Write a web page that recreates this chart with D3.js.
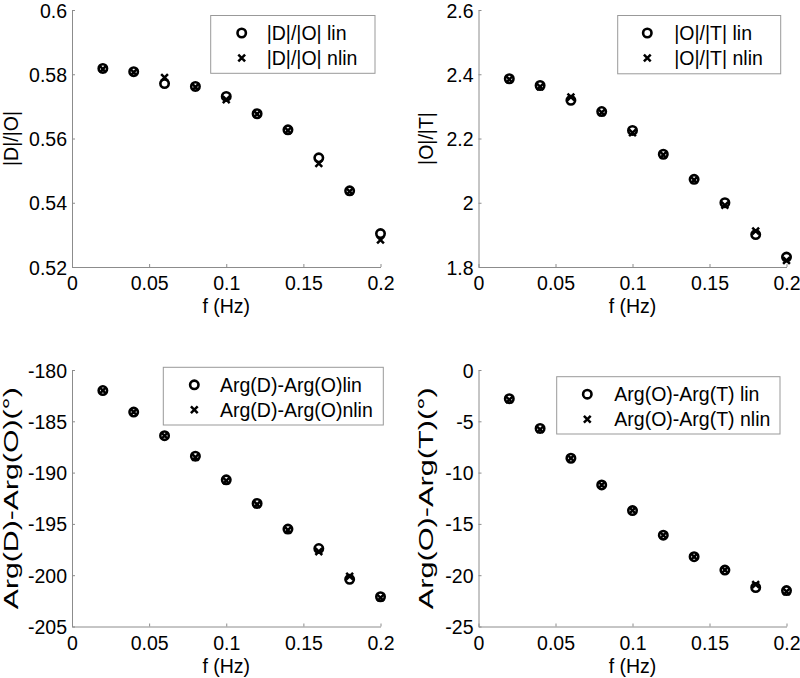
<!DOCTYPE html>
<html><head><meta charset="utf-8">
<script src="https://cdn.jsdelivr.net/npm/d3@7"></script>
<style>
html,body{margin:0;padding:0;background:#fff;}
svg{display:block;font-family:"Liberation Sans",Arial,sans-serif;}
</style></head>
<body><svg id="c" width="800" height="678"></svg>
<script>
// ---- data ----
const freq = [0.02,0.04,0.06,0.08,0.10,0.12,0.14,0.16,0.18,0.20];
const xTicks = [0,0.05,0.1,0.15,0.2];
const xTickLabels = ["0","0.05","0.1","0.15","0.2"];

const dOlin  = [0.5818,0.5808,0.5771,0.5762,0.5731,0.5677,0.5627,0.5540,0.5437,0.5304];
const dOnlin = [0.5816,0.5806,0.5790,0.5760,0.5721,0.5676,0.5625,0.5522,0.5435,0.5284];
const dOTicks = [0.52,0.54,0.56,0.58,0.6];
const dOTickLabels = ["0.52","0.54","0.56","0.58","0.6"];

const oTlin  = [2.386,2.365,2.319,2.284,2.225,2.151,2.073,2.000,1.901,1.831];
const oTnlin = [2.384,2.361,2.329,2.281,2.218,2.149,2.071,1.992,1.912,1.820];
const oTTicks = [1.8,2,2.2,2.4,2.6];
const oTTickLabels = ["1.8","2","2.2","2.4","2.6"];

const argDOlin  = [-182.0,-184.1,-186.4,-188.4,-190.7,-193.0,-195.5,-197.4,-200.4,-202.1];
const argDOnlin = [-182.0,-184.1,-186.4,-188.5,-190.8,-193.1,-195.6,-197.7,-200.1,-202.2];
const argDOTicks = [-205,-200,-195,-190,-185,-180];
const argDOTickLabels = ["-205","-200","-195","-190","-185","-180"];

const argOTlin  = [-2.8,-5.7,-8.6,-11.2,-13.7,-16.1,-18.2,-19.5,-21.2,-21.5];
const argOTnlin = [-2.9,-5.8,-8.6,-11.2,-13.7,-16.1,-18.2,-19.5,-20.9,-21.6];
const argOTTicks = [-25,-20,-15,-10,-5,0];
const argOTTickLabels = ["-25","-20","-15","-10","-5","0"];

const xLabel = "f (Hz)";

// ---- panels ----
const panels = [
  {x0:72, x1:380.5, y0:267, y1:10, dom:[0.52,0.6], ticks:dOTicks, tl:dOTickLabels, lin:dOlin, nlin:dOnlin,
   ylab:"|D|/|O|", ylx:17.5, leg:["|D|/|O| lin","|D|/|O| nlin"], box:[210.7,15.5,375,73.3], mx:241.7, tx:266.7},
  {x0:478.5, x1:786.5, y0:267, y1:10, dom:[1.8,2.6], ticks:oTTicks, tl:oTTickLabels, lin:oTlin, nlin:oTnlin,
   ylab:"|O|/|T|", ylx:433, leg:["|O|/|T| lin","|O|/|T| nlin"], box:[617.7,15.5,780.7,73.8], mx:647.3, tx:674.3},
  {x0:72, x1:380.5, y0:626.5, y1:370, dom:[-205,-180], ticks:argDOTicks, tl:argDOTickLabels, lin:argDOlin, nlin:argDOnlin,
   ylab:"Arg(D)-Arg(O)(°)", ylx:17.5, stretch:222, leg:["Arg(D)-Arg(O)lin","Arg(D)-Arg(O)nlin"], box:[163.3,367.3,383.3,425], mx:194.3, tx:220},
  {x0:478.5, x1:786.5, y0:626.5, y1:370, dom:[-25,0], ticks:argOTTicks, tl:argOTTickLabels, lin:argOTlin, nlin:argOTnlin,
   ylab:"Arg(O)-Arg(T)(°)", ylx:433, stretch:222, leg:["Arg(O)-Arg(T) lin","Arg(O)-Arg(T) nlin"], box:[556.7,376.7,780,434], mx:587.3, tx:614.3}
];

const svg = d3.select("#c");
const FS = 19.5;
const axisCol = "#8c8c8c";

function circ(g, cx, cy){
  g.append("circle").attr("cx",cx).attr("cy",cy).attr("r",4.2)
   .attr("fill","none").attr("stroke","#000").attr("stroke-width",2.6);
}
function cross(g, cx, cy){
  const s=3.4;
  g.append("path").attr("d",`M${cx-s},${cy-s}L${cx+s},${cy+s}M${cx-s},${cy+s}L${cx+s},${cy-s}`)
   .attr("stroke","#000").attr("stroke-width",2.5).attr("fill","none");
}

panels.forEach(p=>{
  const x = d3.scaleLinear().domain([0,0.2]).range([p.x0,p.x1]);
  const y = d3.scaleLinear().domain(p.dom).range([p.y0,p.y1]);
  const g = svg.append("g");

  // x axis
  const xa = g.append("g").attr("transform",`translate(0,${p.y0})`)
    .call(d3.axisBottom(x).tickValues(xTicks).tickSizeInner(-3).tickSizeOuter(0).tickPadding(0).tickFormat((d,i)=>xTickLabels[i]));
  xa.select(".domain").attr("stroke",axisCol);
  xa.selectAll(".tick line").attr("stroke",axisCol);
  xa.selectAll(".tick text").attr("y",23).attr("dy",null).attr("fill","#000")
    .attr("font-size",FS).attr("font-family","Liberation Sans, Arial, sans-serif");

  // y axis
  const ya = g.append("g").attr("transform",`translate(${p.x0},0)`)
    .call(d3.axisLeft(y).tickValues(p.ticks).tickSizeInner(-3).tickSizeOuter(0).tickPadding(0).tickFormat((d,i)=>p.tl[i]));
  ya.select(".domain").attr("stroke",axisCol);
  ya.selectAll(".tick line").attr("stroke",axisCol);
  ya.selectAll(".tick text").attr("x",-5).attr("dy",null).attr("y",7).attr("fill","#000")
    .attr("font-size",FS).attr("font-family","Liberation Sans, Arial, sans-serif");

  // labels
  g.append("text").attr("x",(p.x0+p.x1)/2).attr("y",p.y0+46).attr("text-anchor","middle")
    .attr("font-size",FS).text(xLabel);
  const yl = g.append("text").attr("transform",`translate(${p.ylx},${(p.y0+p.y1)/2}) rotate(-90)`)
    .attr("text-anchor","middle").attr("font-size",FS).text(p.ylab);
  if(p.stretch){ yl.attr("textLength",p.stretch).attr("lengthAdjust","spacingAndGlyphs"); }

  // markers
  const mg = g.append("g");
  freq.forEach((f,i)=>{ circ(mg, x(f), y(p.lin[i])); });
  freq.forEach((f,i)=>{ cross(mg, x(f), y(p.nlin[i])); });

  // legend
  const [bx0,by0,bx1,by1] = p.box;
  g.append("rect").attr("x",bx0).attr("y",by0).attr("width",bx1-bx0).attr("height",by1-by0)
    .attr("fill","#fff").attr("stroke","#999").attr("stroke-width",1);
  const r1 = by0+17.5, r2 = by0+42.5;
  circ(g, p.mx, r1); cross(g, p.mx, r2);
  g.append("text").attr("x",p.tx).attr("y",r1+7).attr("font-size",FS).text(p.leg[0]);
  g.append("text").attr("x",p.tx).attr("y",r2+7).attr("font-size",FS).text(p.leg[1]);
});
</script></body></html>
